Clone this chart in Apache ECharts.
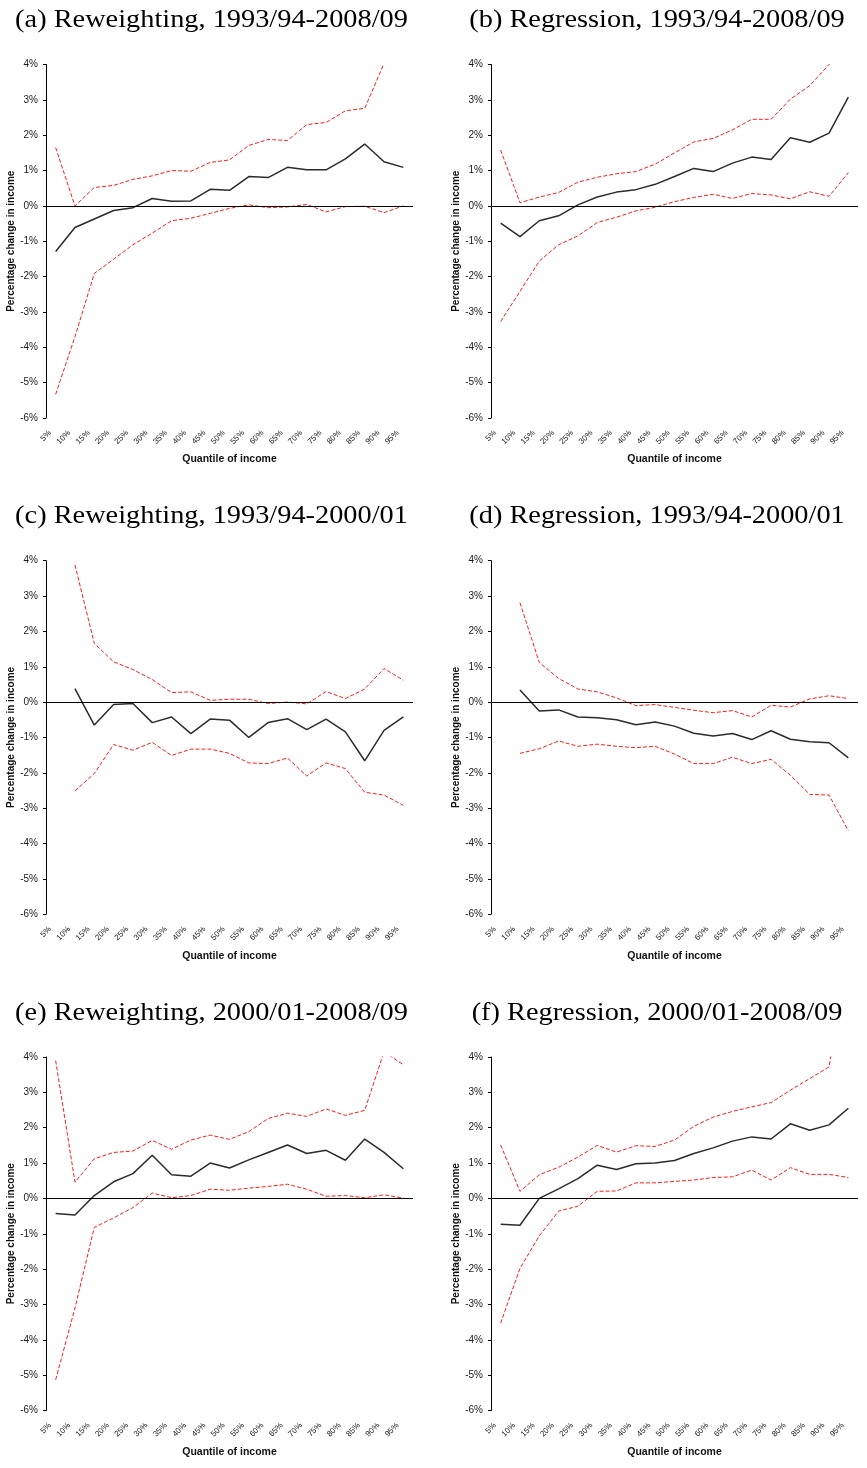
<!DOCTYPE html>
<html>
<head>
<meta charset="utf-8">
<title>Percentage change in income by quantile</title>
<script src="https://cdn.jsdelivr.net/npm/echarts@6/dist/echarts.min.js"></script>
<style>
  html, body { margin: 0; padding: 0; background: #fff; }
  #chart { width: 867px; height: 1468px; }
</style>
</head>
<body>
<div id="chart"></div>
<script>
// Income quantiles on the horizontal axis
const quantiles = ['5%', '10%', '15%', '20%', '25%', '30%', '35%', '40%', '45%', '50%',
                   '55%', '60%', '65%', '70%', '75%', '80%', '85%', '90%', '95%'];

// (a) Reweighting, 1993/94-2008/09
const rwLongEst   = [-1.29, -0.61, -0.37, -0.13, -0.05, 0.21, 0.13, 0.14, 0.47, 0.44, 0.83, 0.80, 1.09, 1.02, 1.02, 1.33, 1.75, 1.25, 1.09];
const rwLongUpper = [1.65, 0.00, 0.52, 0.58, 0.75, 0.85, 1.00, 0.98, 1.23, 1.30, 1.71, 1.88, 1.85, 2.30, 2.36, 2.69, 2.76, 4.03, 4.60];
const rwLongLower = [-5.33, -3.70, -1.91, -1.51, -1.10, -0.77, -0.42, -0.35, -0.21, -0.07, 0.03, -0.05, -0.03, 0.04, -0.17, -0.02, -0.01, -0.19, 0.00];

// (b) Regression, 1993/94-2008/09
const rgLongEst   = [-0.49, -0.87, -0.42, -0.28, 0.03, 0.25, 0.39, 0.46, 0.61, 0.83, 1.06, 0.97, 1.21, 1.38, 1.31, 1.93, 1.80, 2.06, 3.08];
const rgLongUpper = [1.58, 0.09, 0.25, 0.38, 0.67, 0.81, 0.91, 0.97, 1.18, 1.50, 1.81, 1.91, 2.15, 2.45, 2.45, 3.02, 3.40, 4.00, 5.00];
const rgLongLower = [-3.27, -2.42, -1.56, -1.10, -0.85, -0.47, -0.32, -0.14, -0.04, 0.12, 0.24, 0.33, 0.21, 0.35, 0.31, 0.20, 0.40, 0.27, 0.94];

// (c) Reweighting, 1993/94-2000/01
const rwEarlyEst   = [null, 0.38, -0.65, -0.07, -0.04, -0.58, -0.42, -0.89, -0.48, -0.51, -1.00, -0.58, -0.47, -0.78, -0.48, -0.84, -1.66, -0.80, -0.42];
const rwEarlyUpper = [null, 3.88, 1.66, 1.14, 0.92, 0.64, 0.27, 0.29, 0.05, 0.08, 0.08, -0.04, 0.00, -0.05, 0.30, 0.10, 0.37, 0.95, 0.62];
const rwEarlyLower = [null, -2.51, -2.02, -1.20, -1.36, -1.14, -1.51, -1.33, -1.33, -1.45, -1.72, -1.74, -1.58, -2.09, -1.72, -1.88, -2.55, -2.63, -2.92];

// (d) Regression, 1993/94-2000/01
const rgEarlyEst   = [null, 0.34, -0.25, -0.22, -0.42, -0.44, -0.50, -0.64, -0.56, -0.68, -0.88, -0.96, -0.89, -1.06, -0.81, -1.05, -1.12, -1.15, -1.58];
const rgEarlyUpper = [null, 2.81, 1.12, 0.67, 0.37, 0.29, 0.12, -0.10, -0.07, -0.15, -0.23, -0.30, -0.24, -0.42, -0.09, -0.14, 0.09, 0.18, 0.10];
const rgEarlyLower = [null, -1.45, -1.32, -1.10, -1.25, -1.19, -1.25, -1.29, -1.25, -1.47, -1.74, -1.74, -1.56, -1.74, -1.62, -2.07, -2.61, -2.63, -3.64];

// (e) Reweighting, 2000/01-2008/09
const rwLateEst   = [-0.43, -0.47, 0.08, 0.47, 0.70, 1.22, 0.67, 0.63, 1.00, 0.86, 1.09, 1.30, 1.51, 1.27, 1.36, 1.08, 1.68, 1.30, 0.84];
const rwLateUpper = [3.90, 0.46, 1.12, 1.30, 1.34, 1.64, 1.39, 1.65, 1.79, 1.67, 1.89, 2.26, 2.41, 2.32, 2.53, 2.35, 2.49, 4.15, 3.78];
const rwLateLower = [-5.13, -3.10, -0.82, -0.55, -0.26, 0.15, 0.02, 0.08, 0.26, 0.23, 0.29, 0.34, 0.40, 0.26, 0.06, 0.08, 0.02, 0.10, 0.01];

// (f) Regression, 2000/01-2008/09
const rgLateEst   = [-0.73, -0.76, 0.00, 0.27, 0.56, 0.94, 0.82, 0.98, 1.00, 1.07, 1.27, 1.43, 1.62, 1.74, 1.68, 2.11, 1.93, 2.08, 2.55];
const rgLateUpper = [1.51, 0.20, 0.67, 0.88, 1.17, 1.50, 1.31, 1.49, 1.47, 1.65, 2.04, 2.30, 2.46, 2.59, 2.71, 3.06, 3.39, 3.72, 7.00];
const rgLateLower = [-3.53, -1.98, -1.06, -0.36, -0.22, 0.20, 0.21, 0.44, 0.44, 0.48, 0.52, 0.59, 0.61, 0.80, 0.52, 0.87, 0.68, 0.68, 0.59];

const panelTitles = [
  '(a) Reweighting, 1993/94-2008/09',
  '(b) Regression, 1993/94-2008/09',
  '(c) Reweighting, 1993/94-2000/01',
  '(d) Regression, 1993/94-2000/01',
  '(e) Reweighting, 2000/01-2008/09',
  '(f) Regression, 2000/01-2008/09'
];

const panels = [
  [rwLongEst, rwLongUpper, rwLongLower],
  [rgLongEst, rgLongUpper, rgLongLower],
  [rwEarlyEst, rwEarlyUpper, rwEarlyLower],
  [rgEarlyEst, rgEarlyUpper, rgEarlyLower],
  [rwLateEst, rwLateUpper, rwLateLower],
  [rgLateEst, rgLateUpper, rgLateLower]
];

// Layout of the 2 x 3 grid of panels
const colLeft = [46, 491];
const rowTop = [64.5, 560.7, 1057];
const plotW = 367;
const plotH = 353.5;
const titleCenterX = [211.5, 657];
const titleY = [20, 516.5, 1013];

const sans = '"Liberation Sans", Arial, sans-serif';

const grid = [], xAxis = [], yAxis = [], series = [], graphic = [];

panels.forEach(function (p, i) {
  const col = i % 2, row = Math.floor(i / 2);
  grid.push({ left: colLeft[col], top: rowTop[row], width: plotW, height: plotH });

  xAxis.push({
    type: 'category',
    gridIndex: i,
    data: quantiles,
    boundaryGap: true,
    axisLine: { show: false, onZero: false },
    axisTick: { show: false },
    axisLabel: { interval: 0, rotate: 45, fontSize: 8, fontFamily: sans, color: '#222', margin: 8, padding: [0, 8, 0, 0] },
    name: 'Quantile of income',
    nameLocation: 'middle',
    nameGap: 36,
    nameTextStyle: { fontSize: 10.5, fontWeight: 'bold', fontFamily: sans, color: '#111' }
  });

  yAxis.push({
    type: 'value',
    gridIndex: i,
    min: -6, max: 4, interval: 1,
    splitLine: { show: false },
    axisLine: { show: true, lineStyle: { color: '#000', width: 1 } },
    axisTick: { show: true, length: 3, lineStyle: { color: '#000' } },
    axisLabel: { formatter: '{value}%', fontSize: 10, fontFamily: sans, color: '#1a1a1a', margin: 8 },
    name: 'Percentage change in income',
    nameLocation: 'middle',
    nameRotate: 90,
    nameGap: 27,
    nameTextStyle: { fontSize: 10, fontWeight: 'bold', fontFamily: sans, color: '#111' }
  });

  const band = { color: '#ff1a1a', width: 1, type: [4, 2] };
  series.push({
    type: 'line', xAxisIndex: i, yAxisIndex: i, data: p[1],
    symbol: 'none', lineStyle: band, z: 2
  });
  series.push({
    type: 'line', xAxisIndex: i, yAxisIndex: i, data: p[2],
    symbol: 'none', lineStyle: band, z: 2
  });
  series.push({
    type: 'line', xAxisIndex: i, yAxisIndex: i, data: p[0],
    symbol: 'none', lineStyle: { color: '#2b2b2b', width: 1.5 }, z: 3,
    markLine: {
      silent: true, symbol: ['none', 'none'], label: { show: false },
      lineStyle: { color: '#000', width: 1, type: 'solid' },
      data: [{ yAxis: 0 }]
    }
  });

  // Panel heading, stretched slightly to the width of the serif face used in the paper
  graphic.push({
    type: 'text',
    x: titleCenterX[col], y: titleY[row],
    scaleX: 1.09,
    style: {
      text: panelTitles[i],
      fontSize: 26,
      fontFamily: '"Liberation Serif", "Times New Roman", serif',
      fill: '#000',
      align: 'center',
      verticalAlign: 'middle'
    }
  });
});

const chart = echarts.init(document.getElementById('chart'), null, { renderer: 'canvas' });
chart.setOption({
  animation: false,
  backgroundColor: '#fff',
  grid: grid,
  xAxis: xAxis,
  yAxis: yAxis,
  series: series,
  graphic: graphic
});
</script>
</body>
</html>
